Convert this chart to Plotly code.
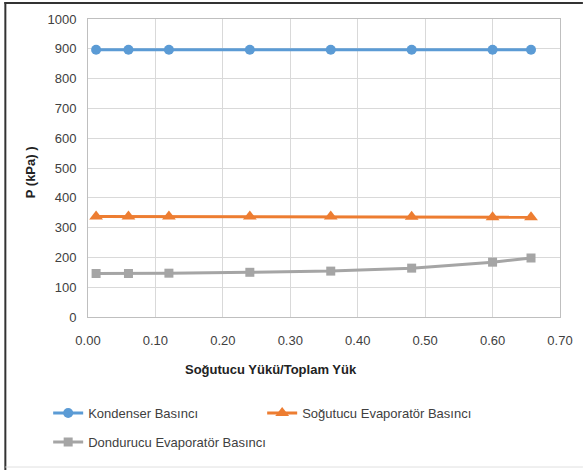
import plotly.graph_objects as go

x_vals = [0.012, 0.06, 0.12, 0.24, 0.36, 0.48, 0.60, 0.657]
kondenser = [897, 897, 897, 897, 897, 897, 897, 897]
sogutucu = [337, 337, 337, 337, 337, 336, 335, 335]
dondurucu = [146, 146, 147, 150, 154, 164, 184, 198]

x_ticks = [0, 0.1, 0.2, 0.3, 0.4, 0.5, 0.6, 0.7]
y_ticks = [0, 100, 200, 300, 400, 500, 600, 700, 800, 900, 1000]

FONT = "Liberation Sans, Arial, sans-serif"
FS = 13
TXT = "#404040"

fig = go.Figure()
fig.add_trace(go.Scatter(x=x_vals, y=kondenser, name="Kondenser Basıncı", mode="lines+markers",
                         line=dict(color="#5B9BD5", width=3),
                         marker=dict(symbol="circle", size=10, color="#5B9BD5"), legend="legend"))
fig.add_trace(go.Scatter(x=x_vals, y=sogutucu, name="Soğutucu Evaporatör Basıncı", mode="lines+markers",
                         line=dict(color="#ED7D31", width=3),
                         marker=dict(symbol="triangle-up", size=12, color="#ED7D31"), legend="legend"))
fig.add_trace(go.Scatter(x=x_vals, y=dondurucu, name="Dondurucu Evaporatör Basıncı", mode="lines+markers",
                         line=dict(color="#A5A5A5", width=3),
                         marker=dict(symbol="square", size=9, color="#A5A5A5"), legend="legend2"))

L, R, T, B = 88, 23, 19, 153
W, H = 585, 470
pw, ph = W - L - R, H - T - B

def px(xp):
    return (xp - L) / pw

def py(yp):
    return (H - B - yp) / ph

fig.update_layout(
    width=W, height=H,
    margin=dict(l=L, r=R, t=T, b=B),
    paper_bgcolor="white", plot_bgcolor="white",
    font=dict(family=FONT, size=FS, color=TXT),
    showlegend=True,
    legend=dict(orientation="h", x=px(48), y=py(398), xanchor="left", yanchor="top",
                entrywidth=169, entrywidthmode="pixels", bgcolor="rgba(0,0,0,0)",
                font=dict(family=FONT, size=FS, color=TXT), itemwidth=30),
    legend2=dict(orientation="h", x=px(48), y=py(427), xanchor="left", yanchor="top",
                 bgcolor="rgba(0,0,0,0)", font=dict(family=FONT, size=FS, color=TXT), itemwidth=30),
    xaxis=dict(range=[0, 0.7], tickvals=x_ticks, tickformat=".2f",
               showgrid=True, gridcolor="#D9D9D9", gridwidth=1,
               showline=True, linecolor="#BFBFBF", linewidth=1, mirror=True,
               zeroline=False, ticks="", ticklabelstandoff=11,
               tickfont=dict(family=FONT, size=FS, color=TXT)),
    yaxis=dict(range=[0, 1000], tickvals=y_ticks,
               showgrid=True, gridcolor="#D9D9D9", gridwidth=1,
               showline=True, linecolor="#BFBFBF", linewidth=1, mirror=True,
               zeroline=False, ticks="", ticklabelstandoff=8,
               tickfont=dict(family=FONT, size=FS, color=TXT)),
    annotations=[
        dict(text="<b>Soğutucu Yükü/Toplam Yük</b>", xref="paper", yref="paper",
             x=px(272), y=py(369), xanchor="center", yanchor="middle", showarrow=False,
             font=dict(family=FONT, size=FS, color="#222222")),
        dict(text="<b>P (kPa) )</b>", xref="paper", yref="paper",
             x=px(30), y=py(172), xanchor="center", yanchor="middle", showarrow=False,
             textangle=-90, font=dict(family=FONT, size=FS, color="#222222")),
    ],
    shapes=[
        dict(type="line", xref="paper", yref="paper", x0=px(5), x1=px(5), y0=py(2), y1=py(470),
             line=dict(color="#333333", width=2)),
        dict(type="line", xref="paper", yref="paper", x0=px(4), x1=px(585), y0=py(3), y1=py(3),
             line=dict(color="#333333", width=2)),
        dict(type="line", xref="paper", yref="paper", x0=px(5), x1=px(585), y0=py(467), y1=py(467),
             line=dict(color="#E0E0E0", width=1)),
    ],
)

fig.write_html("out.html", config={"displayModeBar": False},
               post_script="document.body.style.margin='0';")
